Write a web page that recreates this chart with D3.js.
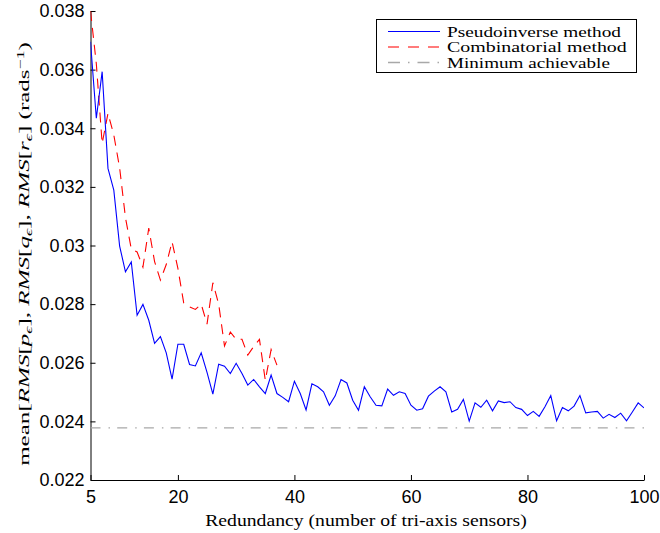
<!DOCTYPE html>
<html><head><meta charset="utf-8">
<script src="https://cdn.jsdelivr.net/npm/d3@7/dist/d3.min.js"></script>
<style>body{margin:0;background:#fff} svg{display:block}</style>
</head><body>
<script>
// ---------- data ----------
const firstRedundancy = 5;
const pseudoinverse = [
 0.03695,0.03434,0.03593,0.03263,0.03189,0.02998,0.02910,0.02944,0.02762,0.02799,
 0.02745,0.02666,0.02689,0.02634,0.02544,0.02663,0.02663,0.02594,0.02589,0.02634,
 0.02567,0.02493,0.02595,0.02588,0.02563,0.02598,0.02563,0.02524,0.02543,0.02518,
 0.02495,0.02558,0.02495,0.02482,0.02467,0.02537,0.02495,0.02439,0.02528,0.02518,
 0.02501,0.02455,0.02487,0.02543,0.02531,0.02472,0.02438,0.02518,0.02484,0.02455,
 0.02453,0.02510,0.02489,0.02501,0.02495,0.02455,0.02438,0.02443,0.02486,0.02503,
 0.02518,0.02501,0.02432,0.02441,0.02475,0.02401,0.02463,0.02448,0.02472,0.02436,
 0.02470,0.02464,0.02467,0.02447,0.02441,0.02420,0.02434,0.02417,0.02450,0.02488,
 0.02402,0.02447,0.02436,0.02452,0.02488,0.02429,0.02432,0.02434,0.02411,0.02424,
 0.02413,0.02428,0.02402,0.02432,0.02463,0.02446
];
const combinatorial = [
 0.03800,0.03620,0.03348,0.03451,0.03377,0.03265,0.03095,0.02988,0.02978,0.02926,
 0.03059,0.02945,0.02882,0.02935,0.03013,0.02922,0.02804,0.02791,0.02782,0.02800,
 0.02732,0.02873,0.02800,0.02657,0.02705,0.02680,0.02680,0.02626,0.02655,0.02680,
 0.02540,0.02645,0.02592
];
const minimumAchievable = 0.02378;
const xDomain = [5, 100];
const yDomain = [0.022, 0.038];
const xTicks = [5, 20, 40, 60, 80, 100];
const yTicks = [0.022, 0.024, 0.026, 0.028, 0.030, 0.032, 0.034, 0.036, 0.038];
const yTickLabels = ["0.022","0.024","0.026","0.028","0.03","0.032","0.034","0.036","0.038"];
const legendLabels = ["Pseudoinverse method", "Combinatorial method", "Minimum achievable"];

// ---------- layout ----------
const W = 660, H = 533;
const L = 90.5, R = 644, T = 11, B = 480;

const svg = d3.select("body").append("svg").attr("width", W).attr("height", H);
const x = d3.scaleLinear().domain(xDomain).range([L, R]);
const y = d3.scaleLinear().domain(yDomain).range([B, T]);

const sans = "Liberation Sans, Arial, Helvetica, sans-serif";
const serif = "Liberation Serif, DejaVu Serif, serif";

// stretch text horizontally (along its direction) to a target length
function fitScale(textSel, target, base) {
  const w = textSel.node().getComputedTextLength();
  textSel.attr("transform", `${base} scale(${(target / w).toFixed(4)},1)`);
}

// axes
const xAxis = d3.axisBottom(x).tickValues(xTicks).tickFormat(d3.format("d"))
  .tickSizeInner(-5).tickSizeOuter(0).tickPadding(10);
const yAxis = d3.axisLeft(y).tickValues(yTicks).tickFormat((d, i) => yTickLabels[i])
  .tickSizeInner(-5).tickSizeOuter(0).tickPadding(6);

const gx = svg.append("g").attr("transform", `translate(0,${B})`).call(xAxis);
const gy = svg.append("g").attr("transform", `translate(${L},0)`).call(yAxis);
[gx, gy].forEach(g => {
  g.selectAll("path").attr("stroke", "#000").attr("stroke-width", 1);
  g.selectAll("line").attr("stroke", "#000").attr("stroke-width", 1);
  g.selectAll("text").attr("font-family", sans).attr("font-size", 18).attr("fill", "#000");
});
gy.selectAll("text").attr("x", -6);

// clip
svg.append("clipPath").attr("id", "clip").append("rect")
  .attr("x", L).attr("y", T - 1).attr("width", R - L).attr("height", B - T + 1);
const plot = svg.append("g").attr("clip-path", "url(#clip)");

const line = d3.line().x((d, i) => x(firstRedundancy + i)).y(d => y(d));

// minimum achievable
plot.append("line")
  .attr("x1", x(xDomain[0])).attr("x2", x(xDomain[1]))
  .attr("y1", y(minimumAchievable)).attr("y2", y(minimumAchievable))
  .attr("stroke", "#a8a8a8").attr("stroke-width", 1.3)
  .attr("stroke-dasharray", "10,8,1.5,7.2");

plot.append("path").datum(combinatorial).attr("d", line)
  .attr("fill", "none").attr("stroke", "#ff0000").attr("stroke-width", 1.1)
  .attr("stroke-dasharray", "10,7");

plot.append("path").datum(pseudoinverse).attr("d", line)
  .attr("fill", "none").attr("stroke", "#0000ff").attr("stroke-width", 1.1);

// x label
const xl = svg.append("text").attr("x", 0).attr("y", 0)
  .attr("text-anchor", "middle").attr("font-family", serif).attr("font-size", 17)
  .text("Redundancy (number of tri-axis sensors)");
fitScale(xl, 322, `translate(${(205 + 527) / 2},526)`);

// y label
const yl = svg.append("text").attr("x", 0).attr("y", 0)
  .attr("text-anchor", "middle").attr("font-family", serif).attr("font-size", 15.5);
const parts = [
  ["mean[", "n"], ["RMS", "i"], ["[", "n"], ["p", "i"], ["ϵ", "sub"], ["], ", "n"],
  ["RMS", "i"], ["[", "n"], ["q", "i"], ["ϵ", "sub"], ["], ", "n"],
  ["RMS", "i"], ["[", "n"], ["r", "i"], ["ϵ", "sub"], ["] (rads", "n"], ["−1", "sup"], [")", "n"]
];
parts.forEach(([t, k]) => {
  const ts = yl.append("tspan").text(t);
  if (k === "i") ts.attr("font-style", "italic");
  if (k === "sub") ts.attr("font-style", "italic").attr("font-size", 11).attr("baseline-shift", "-25%");
  if (k === "sup") ts.attr("font-size", 11).attr("baseline-shift", "45%");
});
fitScale(yl, 424, "translate(29,254) rotate(-90)");

// legend
const lg = svg.append("g");
lg.append("rect").attr("x", 376.5).attr("y", 19.5).attr("width", 260).attr("height", 53)
  .attr("fill", "#fff").attr("stroke", "#000").attr("stroke-width", 1);
const rowsY = [31.5, 47, 62.5];
const styles = [
  {c: "#0000ff", d: null, w: 1.1},
  {c: "#ff5050", d: "11,9", w: 1.3},
  {c: "#a8a8a8", d: "12,8,1.5,8", w: 1.3}
];
const legendWidths = [174, 180, 163];
legendLabels.forEach((lab, i) => {
  const ln = lg.append("line").attr("x1", 388).attr("x2", 440)
    .attr("y1", rowsY[i]).attr("y2", rowsY[i])
    .attr("stroke", styles[i].c).attr("stroke-width", styles[i].w);
  if (styles[i].d) ln.attr("stroke-dasharray", styles[i].d);
  const t = lg.append("text").attr("x", 0).attr("y", 0)
    .attr("font-family", serif).attr("font-size", 15).text(lab);
  fitScale(t, legendWidths[i], `translate(447,${rowsY[i] + 5})`);
});
</script>
</body></html>
